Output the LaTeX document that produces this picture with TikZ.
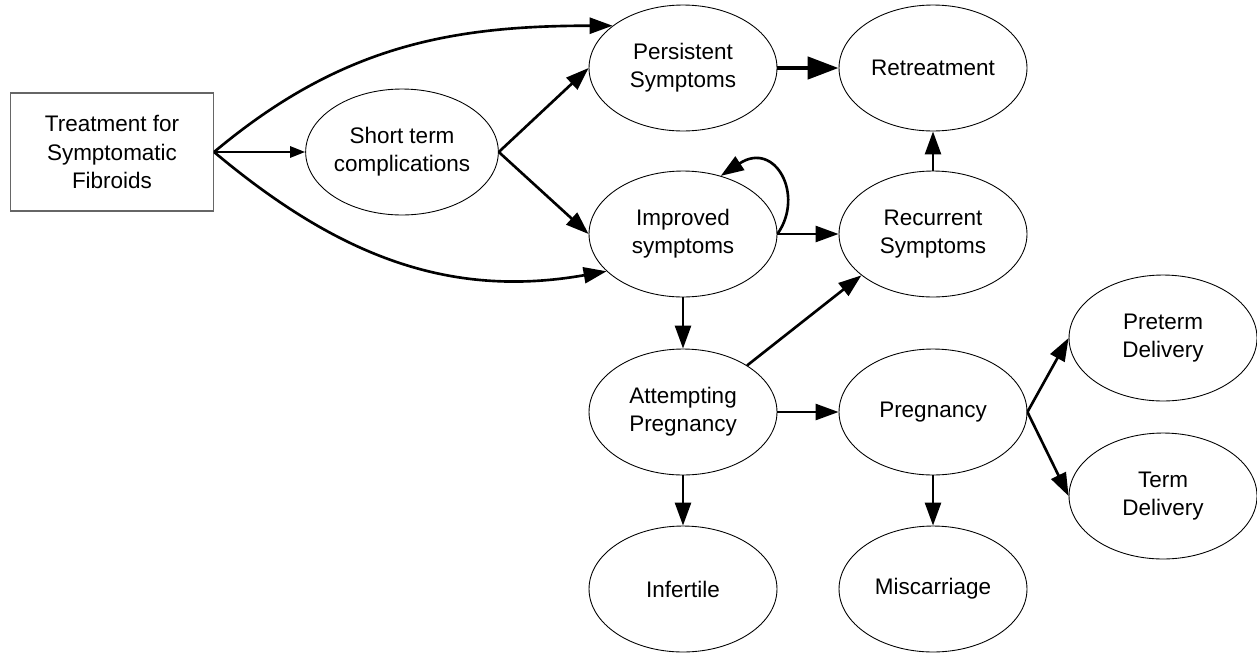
\documentclass[tikz,border=0pt]{standalone}
\usepackage{fontspec}
\setmainfont{Liberation Sans}
\usetikzlibrary{positioning, shapes.geometric, arrows.meta}

\begin{document}
\begin{tikzpicture}[x=0.02cm, y=-0.02cm,
    state/.style={ellipse, draw, line width=0.5pt, minimum width=3.76cm,
      minimum height=2.52cm, inner sep=0pt, align=center,
      font=\fontsize{12.8}{16}\selectfont},
    origin/.style={rectangle, draw=black!60, line width=0.7pt, minimum width=4.06cm,
      minimum height=2.36cm, inner sep=0pt, align=center,
      font=\fontsize{12.8}{16}\selectfont},
    flow/.style={-{Triangle[length=0.46cm, width=0.32cm]}, line width=1.5pt},
    smallflow/.style={-{Triangle[length=0.3cm, width=0.22cm]}, line width=1.4pt},
    heavyflow/.style={-{Triangle[length=0.62cm, width=0.44cm]}, line width=2.6pt}]
      \useasboundingbox (0,0) rectangle (1257,653);
      % states
      \node[origin] (treat) at (112,152) {Treatment for\\Symptomatic\\Fibroids};
      \node[state] (short) at (402,152) {Short term\\complications};
      \node[state] (pers) at (683,68) {Persistent\\Symptoms};
      \node[state] (retr) at (933,68) {Retreatment};
      \node[state] (impr) at (683,234) {Improved\\symptoms};
      \node[state] (recur) at (933,234) {Recurrent\\Symptoms};
      \node[state] (attempt) at (683,412) {Attempting\\Pregnancy};
      \node[state] (preg) at (933,412) {Pregnancy};
      \node[state] (preterm) at (1163,338) {Preterm\\Delivery};
      \node[state] (term) at (1163,496) {Term\\Delivery};
      \node[state] (infert) at (683,589) {Infertile};
      \node[state] (misc) at (933,589) {Miscarriage};
      % transitions
      \draw[smallflow] (treat.east) -- (short.west);
      \draw[flow] (treat.east) to[out=40, in=180] (pers.149);
      \draw[flow] (treat.east) to[out=-40, in=190] (impr.206);
      \draw[flow] (short.east) -- (pers.west);
      \draw[flow] (short.east) -- (impr.west);
      \draw[heavyflow] (pers.east) -- (retr.west);
      \draw[flow] (impr.east) .. controls (805,195) and (775,140) .. (impr.57);
      \draw[flow] (impr.east) -- (recur.west);
      \draw[flow] (recur.north) -- (retr.south);
      \draw[flow] (impr.south) -- (attempt.north);
      \draw[flow] (attempt.36) -- (recur.210);
      \draw[flow] (attempt.east) -- (preg.west);
      \draw[flow] (attempt.south) -- (infert.north);
      \draw[flow] (preg.south) -- (misc.north);
      \draw[flow] (preg.east) -- (preterm.west);
      \draw[flow] (preg.east) -- (term.west);
\end{tikzpicture}
\end{document}
